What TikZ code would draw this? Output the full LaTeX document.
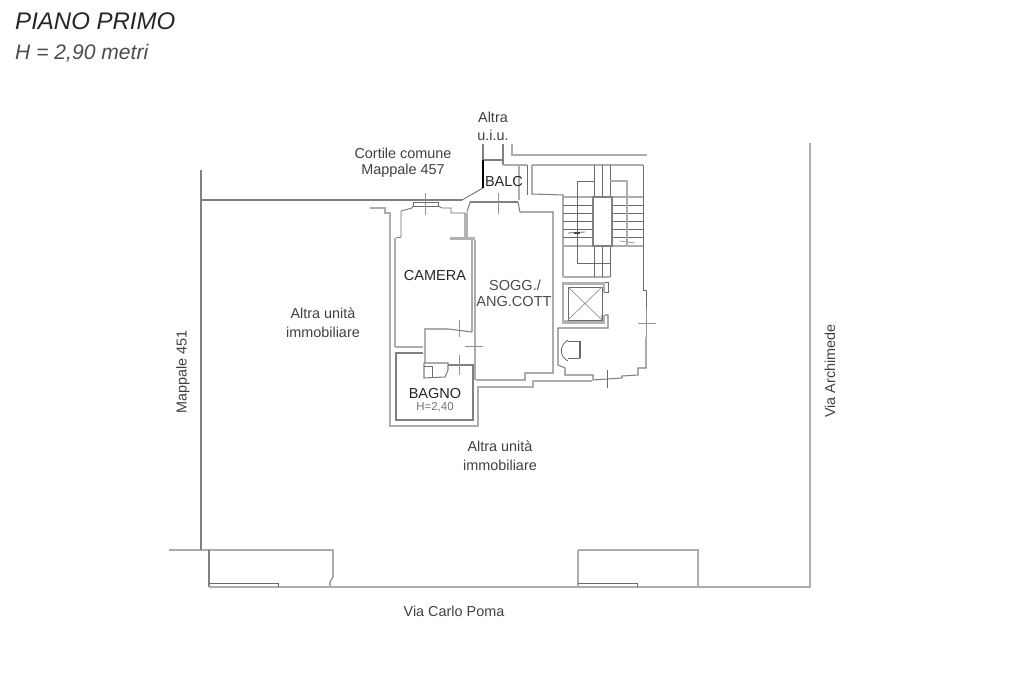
\documentclass[tikz,border=0pt]{standalone}
\usepackage{fontspec}
\setmainfont{Liberation Sans}
\usetikzlibrary{positioning}
\tikzset{
  wall/.style={draw=black!50,line width=0.9pt},
  lightwall/.style={draw=black!32,line width=1.2pt},
  thinwall/.style={draw=black!58,line width=0.7pt},
  thickwall/.style={draw=black!30,line width=2.4pt},
  tick/.style={draw=black!42,line width=0.6pt},
  label/.style={font=\fontsize{12.3}{16}\selectfont,text=black!75,align=center,inner sep=0pt},
  room/.style={font=\fontsize{12.4}{15}\selectfont,text=black!85,align=center,inner sep=0pt}
}
\begin{document}
\begin{tikzpicture}[x=0.03cm,y=-0.03cm]
  \useasboundingbox (0,0) rectangle (1024,682);
  \draw[wall] (201,170) -- (201,550);
  \draw[wall] (201,200) -- (462,200);
  \draw[thinwall] (462,200) -- (483,188);
  \draw[wall] (483,144) -- (483,160) (503,144) -- (503,165) (483,160) -- (503,160);
  \draw[black,line width=0.9pt] (483,160) -- (483,188);
  \draw[lightwall] (512,144) -- (512,155) -- (647,155);
  \draw[lightwall] (503,165) -- (527,165) (519,165) -- (519,200);
  \draw[thinwall] (527,165) -- (527,195);
  \draw[lightwall] (532,165) -- (643,165);
  \draw[thinwall] (643,165) -- (643,290) -- (646,290) -- (646,308);
  \draw[wall] (532,165) -- (532,194) -- (563,195) -- (563,277);
  \draw[lightwall] (563,277) -- (610,277);
  \draw[wall] (646,337) -- (646,368) -- (638,368) -- (638,375) -- (622,376) -- (622,378) -- (593,380) -- (593,375) -- (565,375) -- (565,368) -- (558,365) -- (558,328) -- (608,328) -- (608,315) -- (605,315);
  \draw[tick] (638,323) -- (656,323) (646,308) -- (646,337);
  \draw[thinwall] (607,370) -- (607,388);
  % stairs
  \foreach \y in {205,213,221,229,237} {
    \draw[thinwall] (563,\y) -- (643,\y);
  }
  \foreach \y in {197,246} {
    \draw[lightwall] (563,\y) -- (643,\y);
  }
  \foreach \x in {594,602,610} {
    \draw[thinwall] (\x,165) -- (\x,197) (\x,246) -- (\x,277);
  }
  \draw[fill=white,draw=black!50,line width=1.4pt] (593,197) rectangle (612,246);
  \draw[thinwall] (594,181) -- (577,181) -- (577,263) -- (610,263);
  \draw[lightwall] (610,181) -- (627,181) -- (627,246);
  \draw[thinwall] (568,233) -- (585,232);
  \draw[black!70,line width=1pt] (574,233) -- (580,233);
  \draw[tick] (620,241) -- (635,243);
  % lift
  \draw[lightwall] (563,282) -- (563,324);
  \draw[thickwall] (563,283.5) -- (604,283.5) -- (604,292);
  \draw[thinwall] (605,282) -- (608,282) -- (608,292) -- (604,292);
  \draw[thickwall,line width=3pt] (563,322) -- (603,322) -- (603,315);
  \draw[thinwall] (568,287) rectangle (602,320);
  \draw[tick] (568,287) -- (602,320) (602,287) -- (568,320);
  \draw[thinwall] (568,340) .. controls (559,346) and (559,356) .. (568,361);
  \draw[thinwall] (568,341) -- (580,341) (568,358) -- (580,358);
  \draw[black!60,line width=1.4pt] (580,341) -- (580,358);
  % rooms
  \draw[lightwall] (370,208) -- (385,208) -- (385,213) -- (390,213) -- (390,426) -- (478,426) -- (478,387) -- (533,387) -- (533,381) -- (592,381);
  \draw[lightwall] (395,347) -- (423,347) (475,240) -- (475,380);
  \draw[lightwall] (395,347) -- (395,238);
  \draw[thinwall] (396,238) -- (401,237) -- (401,211) -- (412,208) -- (413,206) (438,206) -- (442,208) -- (451,208) -- (451,213) -- (466,213);
  \draw[thinwall] (413,202) rectangle (438,206);
  \draw[wall] (472,240) -- (472,332) (424,329) -- (448,329) -- (472,332);
  \draw[wall] (476,380) -- (525,380) -- (525,373) -- (553,373) -- (553,212) -- (520,212) -- (518,202);
  \draw[wall] (423,353) -- (396,353) -- (396,420) -- (473,420) -- (473,365) -- (448,365);
  \draw[black!50,line width=1.5pt] (470,202) -- (518,202);
  \draw[wall] (470,202) -- (467,212);
  \draw[thickwall,line width=3pt] (466,213) -- (466,238);
  \draw[thickwall] (450,238.5) -- (475,238.5);
  \draw[thickwall] (425,330) -- (425,363);
  \draw[wall] (424,363) -- (448,363) -- (448,370) -- (445,377) -- (424,378) -- (424,363);
  \draw[thinwall] (424,366) -- (432,366) -- (432,377);
  \draw[tick] (425,193) -- (425,215) (498,193) -- (498,214);
  \draw[tick] (459,320) -- (459,337) (459,355) -- (459,375) (465,346) -- (483,346);
  % street side
  \draw[wall] (169,550) -- (333,550) -- (333,577) -- (330,582) -- (330,587);
  \draw[wall] (209,550) -- (209,587);
  \draw[lightwall] (209,587) -- (810,587) -- (810,143);
  \draw[thinwall] (209,583) -- (278,583) -- (278,587);
  \draw[lightwall] (578,550) -- (698,550) -- (698,587) (578,550) -- (578,587);
  \draw[thinwall] (578,583) -- (637,583) -- (637,587);
  % texts
  \node[font=\itshape\fontsize{20.5}{24}\selectfont,text=black!85,anchor=west,inner sep=0pt] (titolo) at (15,21) {PIANO PRIMO};
  \node[font=\itshape\fontsize{18}{21}\selectfont,text=black!70,anchor=west,inner sep=0pt] (altezza) at (15,53) {H = 2,90 metri};
  \node[label] (altra) at (493,117) {Altra};
  \node[label] (uiu) at (493,135) {u.i.u.};
  \node[label] (cortile) at (403,153) {Cortile comune};
  \node[label] (mappale) at (403,171) {Mappale 457};
  \node[room] (balc) at (504,182) {BALC};
  \node[room] (camera) at (435,276) {CAMERA};
  \node[room,text=black!70] (sogg) at (515,285) {SOGG./};
  \node[room,text=black!70] (ang) at (514,302) {ANG.COTT};
  \node[room] (bagno) at (435,394) {BAGNO};
  \node[label,font=\fontsize{9.8}{12}\selectfont,text=black!55] (hbagno) at (435,407) {H=2,40};
  \node[label] (unita) at (323,322.5) {Altra unità\\immobiliare};
  \node[label] (unitab) at (500,455.5) {Altra unità\\immobiliare};
  \node[label,rotate=90] (m451) at (183,372) {Mappale 451};
  \node[label,rotate=90] (archi) at (830,371) {Via Archimede};
  \node[label] (poma) at (454,611) {Via Carlo Poma};
\end{tikzpicture}
\end{document}
